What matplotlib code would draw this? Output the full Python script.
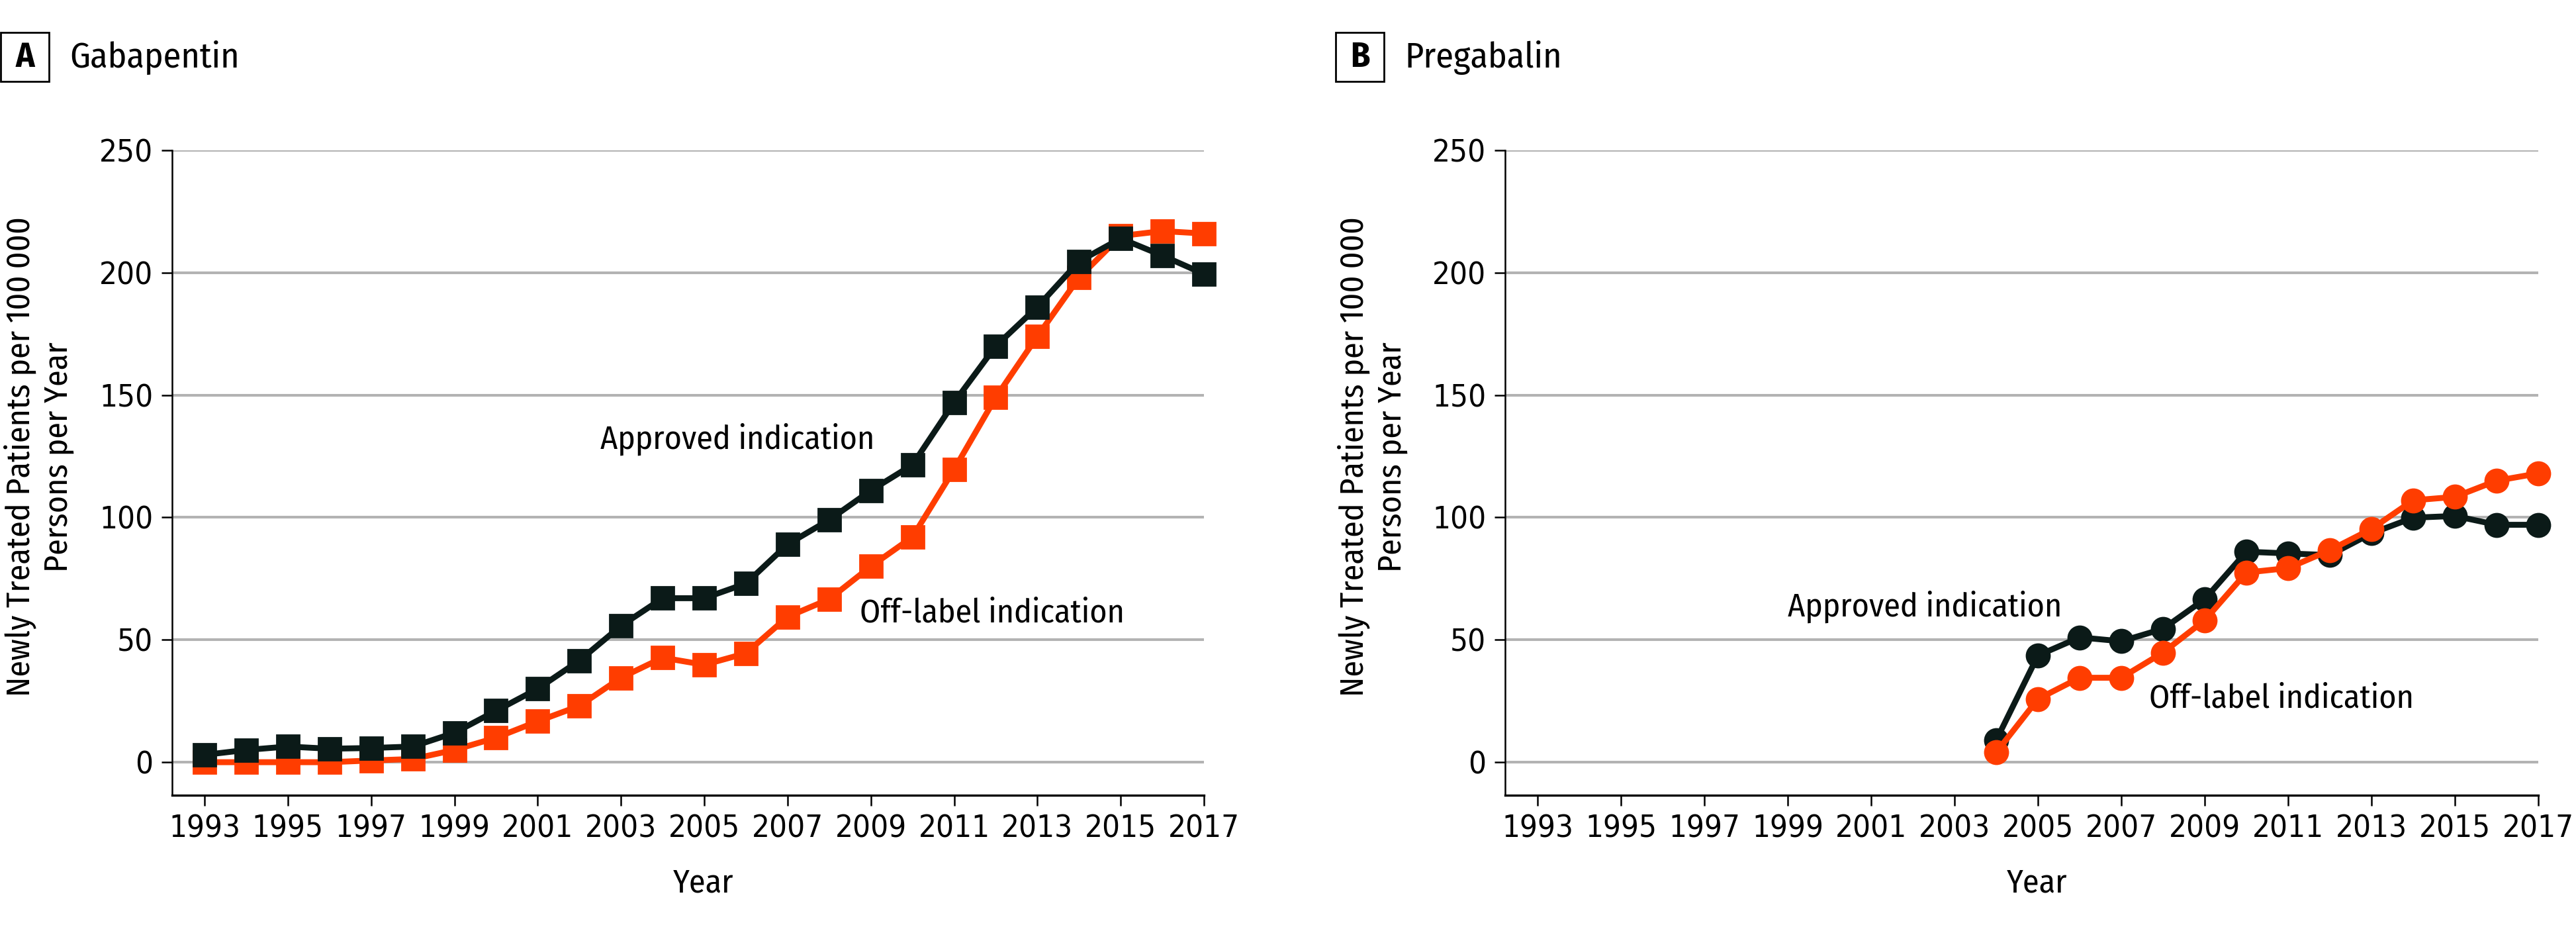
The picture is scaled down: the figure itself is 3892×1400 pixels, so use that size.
import numpy as np
import matplotlib
matplotlib.use("Agg")
import matplotlib.pyplot as plt
from matplotlib.patches import Rectangle

plt.rcParams['font.family'] = ['Fira Sans Condensed', 'DejaVu Sans']

# data
years = list(range(1993, 2018))
gaba_approved = [3, 5, 6.4, 5.5, 5.8, 6.4, 12, 21, 30, 41.5, 55.7, 67, 67, 73,
                 89, 99, 111, 121.5, 147, 170, 186, 204.6, 214, 207, 199.5]
gaba_offlabel = [0, 0, 0, 0, 0.7, 1.3, 5, 10, 16.7, 23, 34.5, 42.7, 39.8, 44.5,
                 59.4, 66.6, 80, 92, 119.6, 149, 174, 198, 215, 217, 216]

pregab_years = list(range(2004, 2018))
pregab_approved = [9, 43.6, 51, 49.4, 54.5, 66.6, 86, 85.3, 84.6, 93.5, 99.9, 100.6, 97, 97]
pregab_offlabel = [4, 25.8, 34.5, 34.5, 44.8, 58, 77.5, 79.3, 86.6, 95.3, 107, 108.4, 115, 118]

xticks = list(range(1993, 2018, 2))
yticks = [0, 50, 100, 150, 200, 250]

BLACK = '#0b1a18'
ORANGE = '#ff3d00'
GRID = '#b3b3b3'

W, H = 3892, 1400
fig = plt.figure(figsize=(W / 200, H / 200), dpi=200)

# tick digits in the reference are wider than the condensed text face
tick_font = dict(fontfamily='DejaVu Sans', fontstretch='condensed', fontsize=17)


def setup(ax):
    ax.set_xlim(1992.22, 2017)
    ax.set_ylim(-13.5, 250)
    ax.set_yticks(yticks, labels=[str(v) for v in yticks], **tick_font)
    ax.set_xticks(xticks, labels=[str(v) for v in xticks], **tick_font)
    ax.tick_params(axis='both', length=5.8, width=0.9, pad=4.5, color='black')
    for s in ['top', 'right']:
        ax.spines[s].set_visible(False)
    ax.spines['left'].set_linewidth(0.9)
    ax.spines['bottom'].set_linewidth(1.2)
    for y in yticks:
        ax.axhline(y, color=GRID, lw=1.45, zorder=0)
    ax.set_xlabel('Year', fontsize=18)
    ax.xaxis.set_label_coords(0.515, -0.112)


# panel A
axA = fig.add_axes([260 / W, 1 - 1201 / H, (1819 - 260) / W, (1201 - 227) / H])
setup(axA)
axA.plot(years, gaba_offlabel, color=ORANGE, lw=3.2, marker='s', ms=11.9,
         clip_on=False, zorder=3)
axA.plot(years, gaba_approved, color=BLACK, lw=3.2, marker='s', ms=11.9,
         clip_on=False, zorder=4)
axA.text(2002.5, 132, 'Approved indication', fontsize=18, va='center', ha='left')
axA.text(2008.74, 60.8, 'Off-label indication', fontsize=18, va='center', ha='left')

# panel B
axB = fig.add_axes([2274 / W, 1 - 1201 / H, (3835 - 2274) / W, (1201 - 227) / H])
setup(axB)
axB.plot(pregab_years, pregab_approved, color=BLACK, lw=3.2, marker='o', ms=12.6,
         clip_on=False, zorder=3)
axB.plot(pregab_years, pregab_offlabel, color=ORANGE, lw=3.2, marker='o', ms=12.6,
         clip_on=False, zorder=4)
axB.text(1999.0, 63.4, 'Approved indication', fontsize=18, va='center', ha='left')
axB.text(2007.67, 26, 'Off-label indication', fontsize=18, va='center', ha='left')

ylab = 'Newly Treated Patients per 100\u2009000\nPersons per Year'
fig.text(59 / W, 1 - 690 / H, ylab, rotation=90, ha='center', va='center',
         fontsize=18, linespacing=1.25)
fig.text(2074 / W, 1 - 690 / H, ylab, rotation=90, ha='center', va='center',
         fontsize=18, linespacing=1.25)

# panel labels
for x0, letter, title in [(0, 'A', 'Gabapentin'), (2017, 'B', 'Pregabalin')]:
    fig.add_artist(Rectangle((x0 / W + 1 / W, 1 - 123 / H), 73 / W, 74 / H,
                             transform=fig.transFigure, fill=False, lw=1.0,
                             edgecolor='black'))
    fig.text((x0 + 38) / W, 1 - 87 / H, letter, fontsize=19, fontweight='bold',
             ha='center', va='center')
    fig.text((x0 + 105) / W, 1 - 87 / H, title, fontsize=19.5, ha='left', va='center')

fig.savefig('out.png', dpi=200)
